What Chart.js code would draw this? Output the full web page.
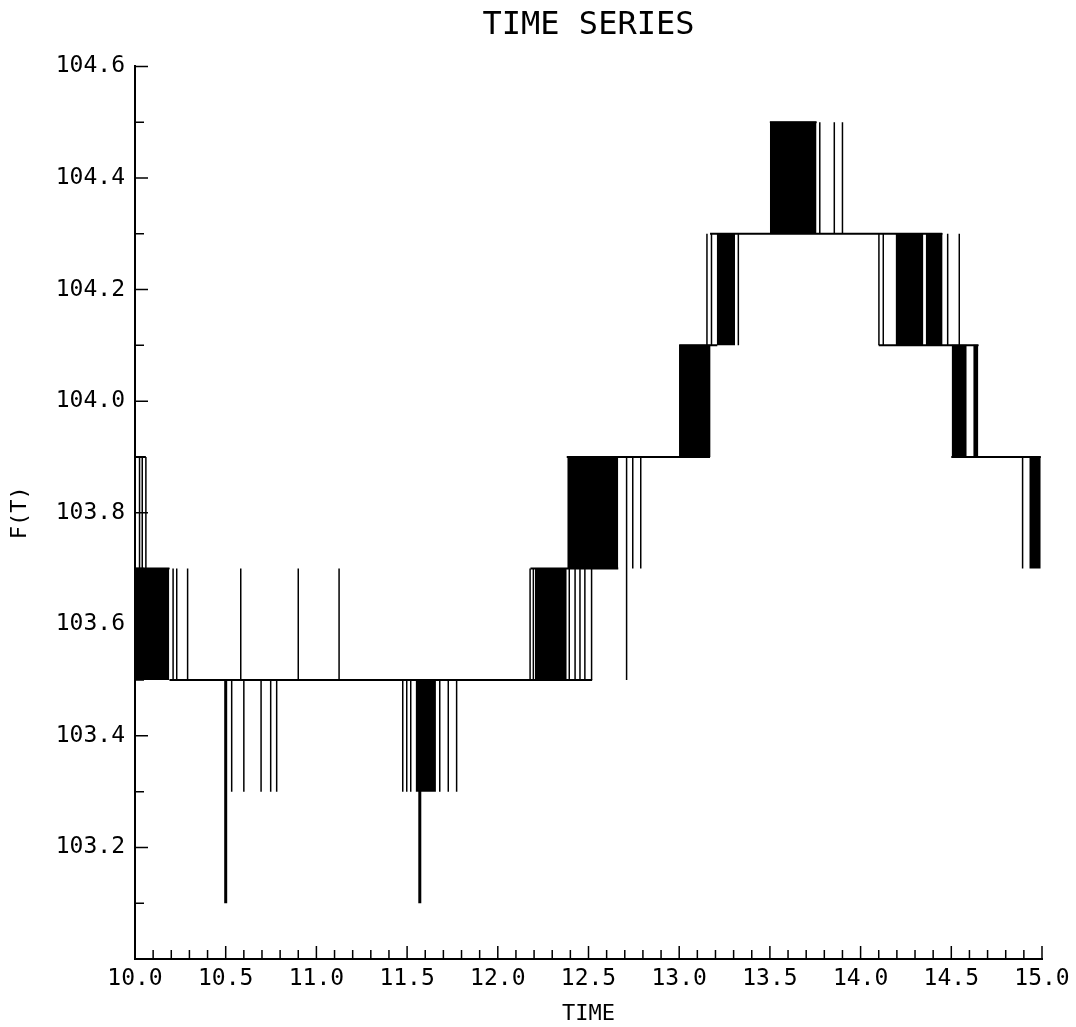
<!DOCTYPE html>
<html>
<head>
<meta charset="utf-8">
<title>TIME SERIES</title>
<script src="https://cdn.jsdelivr.net/npm/chart.js@4.4.1/dist/chart.umd.min.js"></script>
<style>
  html, body { margin: 0; padding: 0; background: #fff; }
  canvas { display: block; }
</style>
</head>
<body>
<canvas id="chart" width="1076" height="1027"></canvas>
<script>
// axis labels
const timeTicks = [10.0, 10.5, 11.0, 11.5, 12.0, 12.5, 13.0, 13.5, 14.0, 14.5, 15.0];
const timeLabels = ['10.0', '10.5', '11.0', '11.5', '12.0', '12.5', '13.0', '13.5', '14.0', '14.5', '15.0'];
const levelTicks = [103.0, 103.2, 103.4, 103.6, 103.8, 104.0, 104.2, 104.4, 104.6];
const levelLabels = ['', '103.2', '103.4', '103.6', '103.8', '104.0', '104.2', '104.4', '104.6'];

// horizontal runs where F(T) sits on one level
const runStart = [10.00, 10.00, 10.19, 12.18, 12.38, 13.00, 13.17, 13.50, 14.10, 14.50];
const runEnd   = [10.06, 10.19, 12.52, 12.664, 13.17, 13.21, 14.45, 13.757, 14.65, 14.993];
const runLevel = [103.9, 103.7, 103.5, 103.7, 103.9, 104.1, 104.3, 104.5, 104.1, 103.9];

// stretches of fast flipping between two levels (solid black on the plot)
const blockStart = [10.000, 11.547, 12.205, 12.383, 12.999, 13.207, 13.500, 14.193, 14.359, 14.502, 14.621, 14.930];
const blockEnd   = [10.189, 11.659, 12.380, 12.664, 13.173, 13.308, 13.757, 14.346, 14.452, 14.585, 14.649, 14.993];
const blockLow   = [103.5, 103.3, 103.5, 103.7, 103.9, 104.1, 104.3, 104.1, 104.1, 103.9, 103.9, 103.7];
const blockHigh  = [103.7, 103.5, 103.7, 103.9, 104.1, 104.3, 104.5, 104.3, 104.3, 104.1, 104.1, 103.9];

// single jumps
const spikeTime = [10.025, 10.040, 10.060, 10.21, 10.23, 10.29, 10.533, 10.583, 10.60, 10.695,
                   10.748, 10.781, 10.90, 11.125, 11.476, 11.498, 11.52, 11.68, 11.727, 11.773,
                   12.178, 12.196, 12.394, 12.426, 12.453, 12.48, 12.517, 12.71, 12.744, 12.788,
                   13.153, 13.178, 13.326, 13.775, 13.855, 13.90, 14.101, 14.125, 14.48, 14.544, 14.893];
const spikeFrom = [103.7, 103.7, 103.7, 103.5, 103.5, 103.5, 103.5, 103.5, 103.5, 103.5,
                   103.5, 103.5, 103.5, 103.5, 103.5, 103.5, 103.5, 103.5, 103.5, 103.5,
                   103.5, 103.5, 103.5, 103.5, 103.5, 103.5, 103.5, 103.5, 103.7, 103.7,
                   104.1, 104.1, 104.1, 104.3, 104.3, 104.3, 104.1, 104.1, 104.1, 104.1, 103.7];
const spikeTo   = [103.9, 103.9, 103.9, 103.7, 103.7, 103.7, 103.3, 103.7, 103.3, 103.3,
                   103.3, 103.3, 103.7, 103.7, 103.3, 103.3, 103.3, 103.3, 103.3, 103.3,
                   103.7, 103.7, 103.7, 103.7, 103.7, 103.7, 103.7, 103.9, 103.9, 103.9,
                   104.3, 104.3, 104.3, 104.5, 104.5, 104.5, 104.3, 104.3, 104.3, 104.3, 103.9];

// the two long drops
const dropTime = [10.50, 11.57];
const dropFrom = [103.5, 103.5];
const dropTo   = [103.1, 103.1];

const FONT = "'DejaVu Sans Mono', monospace";

// pairs of points split by a gap so each piece is drawn on its own
function segments(t0, t1, v0, v1) {
  const pts = [];
  t0.forEach((t, i) => {
    pts.push({x: t, y: v0[i]}, {x: t1[i], y: v1[i]}, {x: t1[i], y: null});
  });
  return pts;
}

const lineBase = {
  borderColor: '#000',
  pointRadius: 0,
  fill: false,
  spanGaps: false
};

const datasets = [];

blockStart.forEach((t, i) => {
  datasets.push(Object.assign({}, lineBase, {
    data: [{x: t, y: blockHigh[i]}, {x: blockEnd[i], y: blockHigh[i]}],
    borderWidth: 1,
    backgroundColor: '#000',
    fill: {value: blockLow[i]}
  }));
});

datasets.push(Object.assign({}, lineBase, {
  data: segments(runStart, runEnd, runLevel, runLevel),
  borderWidth: 2
}));

datasets.push(Object.assign({}, lineBase, {
  data: segments(spikeTime, spikeTime, spikeFrom, spikeTo),
  borderWidth: 1.5
}));

datasets.push(Object.assign({}, lineBase, {
  data: segments(dropTime, dropTime, dropFrom, dropTo),
  borderWidth: 3
}));

// small tick marks pointing into the plot, every 0.1
const innerTicks = {
  id: 'innerTicks',
  afterDraw(chart) {
    const {ctx, chartArea: a, scales: {x, y}} = chart;
    ctx.save();
    ctx.strokeStyle = '#000';
    ctx.lineWidth = 1.5;
    ctx.beginPath();
    const nx = Math.round((x.max - x.min) * 10);
    for (let i = 1; i <= nx; i++) {
      const px = x.getPixelForValue(x.min + i / 10);
      const len = i % 5 === 0 ? 13 : 9;
      ctx.moveTo(px, a.bottom);
      ctx.lineTo(px, a.bottom - len);
    }
    const ny = Math.round((y.max - y.min) * 10);
    for (let i = 1; i <= ny; i++) {
      const py = y.getPixelForValue(y.min + i / 10);
      const len = i % 2 === 0 ? 13 : 9;
      ctx.moveTo(a.left, py);
      ctx.lineTo(a.left + len, py);
    }
    ctx.stroke();
    ctx.restore();
  }
};

new Chart(document.getElementById('chart'), {
  type: 'line',
  data: {datasets},
  plugins: [innerTicks],
  options: {
    responsive: false,
    animation: false,
    layout: {padding: {top: 0, left: 0, right: 34, bottom: 0}},
    plugins: {
      legend: {display: false},
      tooltip: {enabled: false},
      title: {
        display: true,
        text: 'TIME SERIES',
        fullSize: false,
        color: '#000',
        font: {family: FONT, size: 32, weight: 'normal'},
        padding: {top: 6, bottom: 22}
      }
    },
    scales: {
      x: {
        type: 'linear',
        min: 10,
        max: 15,
        afterBuildTicks: s => { s.ticks = timeTicks.map(v => ({value: v})); },
        afterFit: s => { s.height = 68; },
        grid: {display: true, drawOnChartArea: false, drawTicks: false},
        border: {display: true, color: '#000', width: 2},
        ticks: {
          autoSkip: false,
          maxRotation: 0,
          padding: 6,
          color: '#000',
          font: {family: FONT, size: 23},
          callback: (v, i) => timeLabels[i]
        },
        title: {
          display: true,
          text: 'TIME',
          color: '#000',
          font: {family: FONT, size: 22},
          padding: {top: 0, bottom: 0}
        }
      },
      y: {
        type: 'linear',
        min: 103.0,
        max: 104.6,
        afterBuildTicks: s => { s.ticks = levelTicks.map(v => ({value: v})); },
        afterFit: s => { s.width = 135; },
        grid: {display: true, drawOnChartArea: false, drawTicks: false},
        border: {display: true, color: '#000', width: 2},
        ticks: {
          autoSkip: false,
          padding: 10,
          color: '#000',
          font: {family: FONT, size: 23},
          callback: (v, i) => levelLabels[i]
        },
        title: {
          display: true,
          text: 'F(T)',
          color: '#000',
          font: {family: FONT, size: 22},
          padding: {top: 7, bottom: 0}
        }
      }
    }
  }
});
</script>
</body>
</html>
